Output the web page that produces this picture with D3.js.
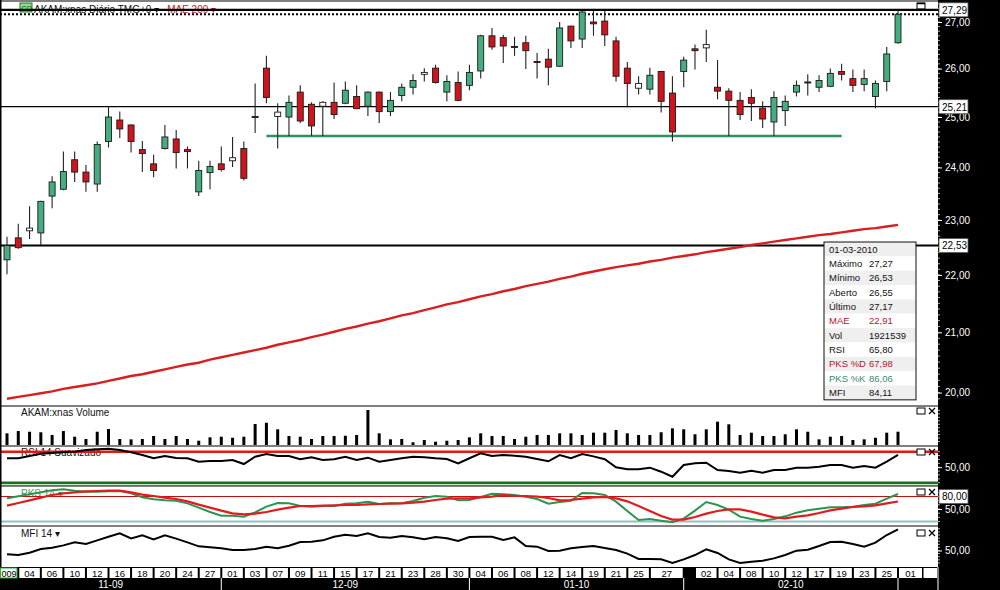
<!DOCTYPE html>
<html><head><meta charset="utf-8">
<script src="https://cdn.jsdelivr.net/npm/d3@7"></script>
<style>
html,body{margin:0;padding:0;background:#fff;}
svg{display:block;font-family:"Liberation Sans",Arial,sans-serif;}
</style></head><body>
<svg id="c" width="1000" height="590"></svg>
<script>
const dates = ["2009-11-03","2009-11-04","2009-11-05","2009-11-06","2009-11-09","2009-11-10","2009-11-11","2009-11-12","2009-11-13","2009-11-16","2009-11-17","2009-11-18","2009-11-19","2009-11-20","2009-11-23","2009-11-24","2009-11-25","2009-11-27","2009-11-30",
"2009-12-01","2009-12-02","2009-12-03","2009-12-04","2009-12-07","2009-12-08","2009-12-09","2009-12-10","2009-12-11","2009-12-14","2009-12-15","2009-12-16","2009-12-17","2009-12-18","2009-12-21","2009-12-22","2009-12-23","2009-12-24","2009-12-28","2009-12-29","2009-12-30","2009-12-31",
"2010-01-04","2010-01-05","2010-01-06","2010-01-07","2010-01-08","2010-01-11","2010-01-12","2010-01-13","2010-01-14","2010-01-15","2010-01-19","2010-01-20","2010-01-21","2010-01-22","2010-01-25","2010-01-26","2010-01-27","2010-01-28","2010-01-29",
"2010-02-01","2010-02-02","2010-02-03","2010-02-04","2010-02-05","2010-02-08","2010-02-09","2010-02-10","2010-02-11","2010-02-12","2010-02-16","2010-02-17","2010-02-18","2010-02-19","2010-02-22","2010-02-23","2010-02-24","2010-02-25","2010-02-26",
"2010-03-01"];

const open = [22.27,22.67,22.80,22.76,23.45,23.58,24.15,23.91,23.68,24.51,
24.94,24.84,24.35,24.07,24.37,24.56,24.35,23.53,23.90,24.07,
24.13,24.37,25.01,26.01,25.01,25.00,25.51,25.26,25.22,25.30,
25.28,25.42,25.22,25.51,25.11,25.44,25.61,25.88,26.01,25.51,
25.71,25.65,25.95,26.70,26.66,26.47,26.55,26.15,26.20,26.05,
26.91,26.63,27.00,27.02,26.59,26.01,25.59,25.57,25.94,25.49,
25.94,26.42,26.44,25.61,25.53,25.34,25.40,25.18,24.90,25.13,
25.51,25.72,25.61,25.63,25.94,25.79,25.67,25.42,25.73,26.55];
const high = [22.69,22.93,23.26,23.36,23.83,24.31,24.31,24.05,24.51,25.22,
25.11,24.85,24.52,24.25,24.84,24.74,24.41,24.13,24.13,24.41,
24.60,24.51,25.69,26.27,25.28,25.44,25.65,25.30,25.32,25.71,
25.73,25.65,25.52,25.52,25.51,25.69,25.88,26.01,26.08,25.86,
25.94,26.08,26.72,26.87,26.72,26.68,26.70,26.33,26.42,27.00,
26.92,27.24,27.26,27.26,26.68,26.14,25.84,26.02,25.95,25.84,
26.25,26.51,26.83,26.18,25.59,25.51,25.57,25.32,25.53,25.44,
25.75,25.88,25.86,26.00,26.10,25.98,25.98,25.75,26.46,27.27];
const low = [22.01,22.47,22.65,22.54,23.22,23.56,23.72,23.53,23.53,24.39,
24.58,24.29,23.91,23.81,24.35,23.98,23.98,23.45,23.58,23.92,
24.01,23.75,24.68,25.28,24.37,24.62,24.88,24.62,24.62,24.96,
25.26,25.16,25.02,24.88,25.02,25.32,25.46,25.73,25.69,25.32,
25.32,25.55,25.79,26.40,26.12,26.27,25.99,25.79,25.65,26.04,
26.44,26.44,26.70,26.48,25.73,25.20,25.46,25.46,25.09,24.51,
25.61,25.98,26.14,25.36,24.62,24.94,24.92,24.78,24.62,24.82,
25.42,25.44,25.51,25.62,25.75,25.51,25.53,25.18,25.53,26.53];
const close = [22.53,22.49,22.85,23.35,23.72,23.92,23.91,23.72,24.45,25.00,
24.76,24.51,24.27,23.94,24.60,24.29,24.31,23.94,24.02,23.96,
24.19,23.79,24.99,25.40,25.10,25.30,24.92,24.82,25.30,25.05,
25.55,25.17,25.51,25.11,25.34,25.61,25.75,25.92,25.71,25.73,
25.34,25.92,26.70,26.46,26.48,26.45,26.38,26.13,26.03,26.87,
26.59,27.22,26.96,26.72,25.84,25.69,25.69,25.86,25.32,24.70,
26.18,26.38,26.51,25.53,25.34,25.05,25.28,24.96,25.40,25.32,
25.65,25.70,25.75,25.90,25.88,25.65,25.79,25.69,26.31,27.17];
const mae200 = [19.90,19.93,19.96,19.99,20.02,20.06,20.09,20.12,20.15,20.19,
20.23,20.27,20.30,20.34,20.38,20.42,20.46,20.49,20.54,20.58,
20.62,20.66,20.70,20.74,20.79,20.83,20.87,20.92,20.96,21.01,
21.06,21.10,21.15,21.19,21.24,21.29,21.33,21.38,21.43,21.48,
21.52,21.57,21.62,21.66,21.71,21.75,21.80,21.84,21.88,21.93,
21.97,22.02,22.06,22.10,22.14,22.17,22.20,22.24,22.27,22.31,
22.34,22.37,22.41,22.44,22.47,22.50,22.54,22.57,22.60,22.63,
22.66,22.69,22.72,22.74,22.77,22.80,22.83,22.85,22.88,22.91];
// volume in millions of shares
const volume = [1.69,2.02,1.92,1.84,1.45,2.02,1.20,0.87,1.92,2.31,
0.87,0.82,0.87,1.30,0.87,1.30,0.87,0.62,1.11,1.20,
1.05,1.20,3.03,3.22,2.27,1.30,1.20,0.87,1.30,1.30,
1.34,1.45,5.06,1.69,0.82,0.87,0.39,0.72,0.48,0.62,
0.72,1.11,1.69,1.30,1.30,0.87,1.20,1.45,1.45,1.69,
1.69,1.45,1.78,1.78,2.17,1.69,1.45,1.45,1.84,2.41,
2.27,1.55,2.27,3.37,2.99,1.45,1.78,1.30,1.30,1.55,
2.27,1.92,0.82,1.20,1.30,0.72,0.82,1.05,1.78,1.921539];
const rsi14 = [61.5,61.5,64.5,67.4,68.3,69.2,70.0,72.2,73.1,73.9,
72.2,69.2,65.7,61.5,64.5,61.9,61.5,57.1,58.0,58.0,
59.3,54.1,63.5,67.0,64.5,64.5,60.2,62.8,59.3,60.2,
63.5,59.3,62.3,57.1,59.3,61.5,63.5,62.8,61.5,60.6,
55.0,61.5,67.9,64.5,65.7,64.8,63.5,60.6,57.6,65.7,
61.5,67.0,64.0,60.2,49.9,47.3,47.3,49.4,44.2,37.7,
52.8,55.0,55.8,46.4,45.1,42.9,45.5,42.9,46.4,46.4,
49.4,49.4,50.6,52.8,52.8,49.4,51.5,49.4,57.1,65.80];
const pksK = [75.6,80.4,85.2,90.0,94.8,97.2,94.0,91.6,91.6,92.4,
93.2,87.6,78.0,73.2,70.8,70.0,63.6,53.2,42.8,34.0,
34.0,31.6,42.0,55.6,64.4,63.6,57.2,55.6,57.2,57.2,
62.8,63.6,67.6,62.0,63.6,63.6,69.2,77.2,81.2,79.6,
70.8,71.6,78.8,86.8,85.2,83.6,79.6,74.0,62.8,66.8,
70.0,88.4,87.6,83.6,67.6,45.2,23.6,26.0,22.0,18.0,
26.8,46.0,66.8,59.6,48.4,31.6,26.0,22.0,26.0,32.4,
41.2,46.8,50.8,54.0,54.0,55.6,59.6,62.8,74.8,86.06];
const pksD = [58.0,64.4,70.8,77.2,83.6,87.6,90.0,92.4,93.2,94.0,
94.0,90.0,84.4,81.2,77.2,74.0,68.4,60.4,53.2,46.0,
39.6,37.2,38.8,42.8,48.4,53.2,57.2,57.2,58.0,58.8,
59.6,59.6,61.2,62.0,62.8,63.6,65.2,67.6,71.6,74.8,
75.6,75.6,78.0,79.6,83.6,81.2,81.2,79.6,76.4,70.8,
71.6,74.8,78.0,78.8,75.6,68.4,57.2,45.2,33.2,24.4,
24.4,30.8,38.8,45.2,49.2,49.2,43.6,36.4,30.0,27.6,
31.6,34.8,40.4,46.8,50.8,54.8,56.4,58.8,63.6,67.98];
const mfi14 = [43.8,42.7,46.5,52.4,54.5,58.3,63.1,60.5,66.4,72.3,
77.7,69.6,74.4,68.0,74.4,69.1,63.1,56.7,55.1,53.5,
50.8,50.8,52.4,56.2,53.5,57.8,63.7,64.2,66.4,72.3,
75.5,73.4,77.7,71.7,70.7,73.4,71.2,68.0,71.7,69.6,
65.3,71.7,72.3,72.3,66.9,71.2,57.2,56.2,49.2,49.7,
53.5,55.6,57.2,54.0,50.8,44.9,36.3,36.3,35.7,29.8,
35.7,42.7,51.9,46.0,35.7,29.8,32.0,33.6,37.3,42.7,
49.7,51.3,57.2,63.7,64.2,60.5,56.2,62.6,75.0,84.11];

const priceTicks = [20,21,22,23,24,25,26,27];
const priceLevels = [27.29, 25.21, 22.53];
const supportLevel = 24.62, supportFrom = "2009-12-07", supportTo = "2010-02-22";
const indicatorTicks = [50];
const dateTicks = ["2009-11-04","2009-11-06","2009-11-10","2009-11-12","2009-11-16","2009-11-18","2009-11-20","2009-11-24","2009-11-27",
"2009-12-01","2009-12-03","2009-12-07","2009-12-09","2009-12-11","2009-12-15","2009-12-17","2009-12-21","2009-12-23","2009-12-28","2009-12-30",
"2010-01-04","2010-01-06","2010-01-08","2010-01-12","2010-01-14","2010-01-19","2010-01-21","2010-01-25","2010-01-27",
"2010-02-02","2010-02-04","2010-02-08","2010-02-10","2010-02-12","2010-02-17","2010-02-19","2010-02-23","2010-02-25","2010-03-01"];
const firstDateLabel = "009";
const monthStarts = ["2009-11-03","2009-12-01","2010-01-04","2010-02-01","2010-03-01"];
const monthLabels = ["11-09","12-09","01-10","02-10",""];
const infoLabels = ["01-03-2010","Máximo","Mínimo","Aberto","Último","MAE","Vol","RSI","PKS %D","PKS %K","MFI"];
const infoValues = ["","27,27","26,53","26,55","27,17","22,91","1921539","65,80","67,98","86,06","84,11"];

const svg = d3.select("#c");
const fmt = v => v.toFixed(2).replace(".", ",");
const XR = 938;
const panels = {main:[1,406], vol:[406,446], rsi:[446,485.5], pks:[486,526], mfi:[526,567]};

const x = d3.scalePoint().domain(dates).range([7, 898]);
const y = d3.scaleLog().domain([20, 27]).range([392.6, 22]);
const yV = d3.scaleLinear().domain([0, 5.35]).range([445, 408]);
const yR = d3.scaleLinear().domain([30, 70]).range([482.7, 451.7]);
const yP = d3.scaleLinear().domain([20, 80]).range([521.5, 496.5]);
const yM = d3.scaleLinear().domain([0, 100]).range([581.5, 519.5]);

const RED = "#d0141c", GREEN = "#45ad80";

svg.append("rect").attr("width",1000).attr("height",590).attr("fill","#fff");
const defs = svg.append("defs");
Object.entries(panels).forEach(([k,[t,b]]) => {
  defs.append("clipPath").attr("id","clip-"+k).append("rect")
    .attr("x",1).attr("y",t).attr("width",XR-1).attr("height",b-t);
});
const layer = k => svg.append("g").attr("clip-path",`url(#clip-${k})`);

// ---------- main panel ----------
const gm = layer("main");
// legend
gm.append("rect").attr("x",20).attr("y",3).attr("width",12).attr("height",9).attr("fill","#8fd88f").attr("stroke","#1a7a1a");
gm.append("text").attr("x",21.5).attr("y",10.5).attr("font-size",7).attr("fill","#0a4a0a").text("CO");
const lg1 = gm.append("text").attr("x",34).attr("y",12.5).attr("font-size",10).attr("fill","#111").text("AKAM:xnas Diário TMG+0 ▾");
const lgEnd = 34 + lg1.node().getComputedTextLength();
gm.append("text").attr("x",lgEnd+8).attr("y",12.5).attr("font-size",10).attr("fill","#d0141c").text("MAE 200 ▾");

// horizontal levels
gm.append("line").attr("x1",0).attr("x2",XR).attr("y1",y(27.29)+1).attr("y2",y(27.29)+1).attr("stroke","#000").attr("stroke-width",2.2);
gm.append("line").attr("x1",0).attr("x2",XR).attr("y1",y(25.21)).attr("y2",y(25.21)).attr("stroke","#000").attr("stroke-width",1.2);
gm.append("line").attr("x1",0).attr("x2",XR).attr("y1",y(22.53)).attr("y2",y(22.53)).attr("stroke","#000").attr("stroke-width",2.2);
gm.append("line").attr("x1",0).attr("x2",XR).attr("y1",y(close[close.length-1])).attr("y2",y(close[close.length-1]))
  .attr("stroke","#000").attr("stroke-width",2).attr("stroke-dasharray","2,2");
// support
gm.append("line").attr("x1",x(supportFrom)).attr("x2",x(supportTo)).attr("y1",y(supportLevel)).attr("y2",y(supportLevel))
  .attr("stroke","#2f8f5f").attr("stroke-width",2.6);
// MAE 200
gm.append("path").datum(mae200).attr("fill","none").attr("stroke","#d81e1e").attr("stroke-width",2.4)
  .attr("d", d3.line().x((d,i)=>x(dates[i])).y(d=>y(d)));
// candles
const cg = gm.append("g");
dates.forEach((d,i) => {
  const o=open[i], c=close[i], cx=x(d);
  cg.append("line").attr("x1",cx).attr("x2",cx).attr("y1",y(high[i])).attr("y2",y(low[i])).attr("stroke","#222").attr("stroke-width",1.1);
  const top=y(Math.max(o,c)), bot=y(Math.min(o,c));
  const up = c>=o;
  const fill = up ? (c-o < 0.105 ? "#fff" : GREEN) : RED;
  cg.append("rect").attr("x",cx-3).attr("y",top).attr("width",6).attr("height",Math.max(1,bot-top))
    .attr("fill",fill).attr("stroke","#1a1a1a").attr("stroke-width",0.9);
});
// maximize icon
gm.append("rect").attr("x",917).attr("y",3).attr("width",8).attr("height",6).attr("fill","none").attr("stroke","#000").attr("stroke-width",1);
gm.append("line").attr("x1",917).attr("x2",925).attr("y1",3.5).attr("y2",3.5).attr("stroke","#000").attr("stroke-width",1.5);

// info box
const ib = svg.append("g");
const ibx=824, iby=242, ibw=92, rh=14.35;
infoLabels.forEach((lab,i) => {
  ib.append("rect").attr("x",ibx).attr("y",iby+i*rh).attr("width",ibw).attr("height",rh).attr("fill", i%2===0 ? "#efefef" : "#fff");
  const col = (lab==="MAE"||lab==="PKS %D") ? "#c0102a" : (lab==="PKS %K" ? "#3d8a68" : "#111");
  ib.append("text").attr("x",ibx+5).attr("y",iby+i*rh+10.5).attr("font-size",9.5).attr("fill",col).text(lab);
  ib.append("text").attr("x",ibx+45).attr("y",iby+i*rh+10.5).attr("font-size",9.5).attr("fill",col).text(infoValues[i]);
});
ib.append("rect").attr("x",ibx).attr("y",iby).attr("width",ibw).attr("height",rh*infoLabels.length).attr("fill","none").attr("stroke","#111").attr("stroke-width",1);

// ---------- volume ----------
const gv = layer("vol");
gv.append("text").attr("x",21).attr("y",416).attr("font-size",10).attr("fill","#111").text("AKAM:xnas Volume");
gv.selectAll("rect.v").data(volume).enter().append("rect")
  .attr("x",(d,i)=>x(dates[i])-1.5).attr("width",3).attr("y",d=>yV(d)).attr("height",d=>yV(0)-yV(d)).attr("fill","#000");

// ---------- RSI ----------
const gr = layer("rsi");
gr.append("text").attr("x",21).attr("y",456).attr("font-size",10).attr("fill","#111").text("RSI 14 Suavizado");
gr.append("line").attr("x1",0).attr("x2",XR).attr("y1",yR(70)).attr("y2",yR(70)).attr("stroke","#e01818").attr("stroke-width",2.4);
gr.append("line").attr("x1",0).attr("x2",XR).attr("y1",yR(30)).attr("y2",yR(30)).attr("stroke","#1f6e1f").attr("stroke-width",2.6);
gr.append("line").attr("x1",0).attr("x2",XR).attr("y1",485.3).attr("y2",485.3).attr("stroke","#8ccf8c").attr("stroke-width",1.4);
gr.append("path").datum(rsi14).attr("fill","none").attr("stroke","#000").attr("stroke-width",2)
  .attr("d", d3.line().x((d,i)=>x(dates[i])).y(d=>yR(d)));

// ---------- PKS ----------
const gp = layer("pks");
gp.append("text").attr("x",21).attr("y",497).attr("font-size",10).attr("fill","#3a9a5a").text("PKS 14  ▾");
gp.append("line").attr("x1",0).attr("x2",XR).attr("y1",yP(80)).attr("y2",yP(80)).attr("stroke","#c01010").attr("stroke-width",1.1);
gp.append("line").attr("x1",0).attr("x2",XR).attr("y1",yP(20)).attr("y2",yP(20)).attr("stroke","#8fc3bf").attr("stroke-width",2.2);
gp.append("path").datum(pksK).attr("fill","none").attr("stroke","#2a9450").attr("stroke-width",2)
  .attr("d", d3.line().x((d,i)=>x(dates[i])).y(d=>yP(d)));
gp.append("path").datum(pksD).attr("fill","none").attr("stroke","#e11c1c").attr("stroke-width",2.2)
  .attr("d", d3.line().x((d,i)=>x(dates[i])).y(d=>yP(d)));

// ---------- MFI ----------
const gf = layer("mfi");
gf.append("text").attr("x",21).attr("y",537).attr("font-size",10).attr("fill","#111").text("MFI 14  ▾");
gf.append("path").datum(mfi14).attr("fill","none").attr("stroke","#000").attr("stroke-width",2)
  .attr("d", d3.line().x((d,i)=>x(dates[i])).y(d=>yM(d)));

// panel icons
[411,452,492,533].forEach(yy => {
  svg.append("rect").attr("x",917).attr("y",yy-3).attr("width",8).attr("height",6).attr("fill","#fff").attr("stroke","#000").attr("stroke-width",1);
  svg.append("path").attr("d",`M929,${yy-3}L935,${yy+3}M935,${yy-3}L929,${yy+3}`).attr("stroke","#000").attr("stroke-width",1.3);
});

// panel borders
Object.values(panels).forEach(([t,b]) => {
  svg.append("line").attr("x1",0).attr("x2",XR).attr("y1",t).attr("y2",t).attr("stroke","#000").attr("stroke-width",1.2);
});
svg.append("line").attr("x1",0.75).attr("x2",0.75).attr("y1",0).attr("y2",567).attr("stroke","#000").attr("stroke-width",1.5);

// ---------- right axis ----------
svg.append("rect").attr("x",XR).attr("y",0).attr("width",1000-XR).attr("height",590).attr("fill","#000");
const axg = svg.append("g").attr("transform",`translate(${XR},0)`);
function drawAxis(scale, ticks, minor, lo, hi){
  const a = axg.append("g").call(d3.axisRight(scale).tickValues(ticks).tickSize(4).tickPadding(3).tickFormat(fmt));
  a.select(".domain").remove();
  a.selectAll("line").attr("stroke","#fff");
  a.selectAll("text").attr("fill","#fff").attr("font-size",10).attr("font-family","Liberation Sans, Arial, sans-serif");
  minor.forEach(v => {
    const yy = scale(v);
    if (yy>lo && yy<hi) axg.append("line").attr("x1",0).attr("x2",2).attr("y1",yy).attr("y2",yy).attr("stroke","#ddd").attr("stroke-width",0.8);
  });
}
drawAxis(y, priceTicks, d3.range(199,275).map(v=>v/10), 2, 405);
drawAxis(yV, [], d3.range(0,5.4,0.5), 407, 445);
drawAxis(yR, indicatorTicks, d3.range(30,75,5), 447, 485);
drawAxis(yP, indicatorTicks, d3.range(20,95,10), 487, 525);
drawAxis(yM, indicatorTicks, d3.range(30,100,5), 527, 566);

function valueBox(yy, txt){
  axg.append("rect").attr("x",1).attr("y",yy-7).attr("width",29).attr("height",14).attr("fill","#fff").attr("stroke","#555").attr("stroke-width",0.8);
  axg.append("text").attr("x",4).attr("y",yy+3.8).attr("font-size",10).attr("fill","#000").text(txt);
}
valueBox(y(priceLevels[0])+1, fmt(priceLevels[0]));
valueBox(y(priceLevels[1]), fmt(priceLevels[1]));
valueBox(y(priceLevels[2]), fmt(priceLevels[2]));
valueBox(yP(80), fmt(80));

// ---------- date axis ----------
const dg = svg.append("g");
dg.append("rect").attr("x",0).attr("y",567).attr("width",1000).attr("height",23).attr("fill","#000");
const mIdx = monthStarts.map(m=>dates.indexOf(m));
dg.append("rect").attr("x",0.5).attr("y",568).attr("width",16.5).attr("height",10).attr("fill","#f4fff4").attr("stroke","#3a3").attr("stroke-width",1);
dg.append("text").attr("x",9).attr("y",576.5).attr("text-anchor","middle").attr("font-size",9).attr("fill","#000").text(firstDateLabel);
dateTicks.forEach((d,k) => {
  const i = dates.indexOf(d);
  const x0 = x(d)+1;
  let x1;
  if (k < dateTicks.length-1) {
    const ni = dates.indexOf(dateTicks[k+1]);
    const nm = mIdx.find(m=>m>i) ?? ni;
    x1 = x(dates[Math.min(ni, nm)]) - 1;
  } else x1 = 922;
  dg.append("rect").attr("x",x0).attr("y",568).attr("width",x1-x0).attr("height",10).attr("fill","#fff");
  dg.append("text").attr("x",(x0+x1)/2).attr("y",576.5).attr("text-anchor","middle").attr("font-size",9.5).attr("fill","#000").text(d.slice(8,10));
});
dg.append("rect").attr("x",923.5).attr("y",568).attr("width",13.5).attr("height",10).attr("fill","#fff");
// month row
const seps = mIdx.map((m,j)=> j===0 ? 0 : x(dates[m]));
seps.push(XR);
monthLabels.forEach((lab,j) => {
  if (j>0) dg.append("line").attr("x1",seps[j]).attr("x2",seps[j]).attr("y1",578).attr("y2",590).attr("stroke","#fff").attr("stroke-width",1);
  if (lab) dg.append("text").attr("x",(seps[j]+seps[j+1])/2).attr("y",588).attr("text-anchor","middle").attr("font-size",10).attr("fill","#fff").text(lab);
});
dg.append("line").attr("x1",XR).attr("x2",XR).attr("y1",567).attr("y2",590).attr("stroke","#fff").attr("stroke-width",1);
</script>
</body></html>
